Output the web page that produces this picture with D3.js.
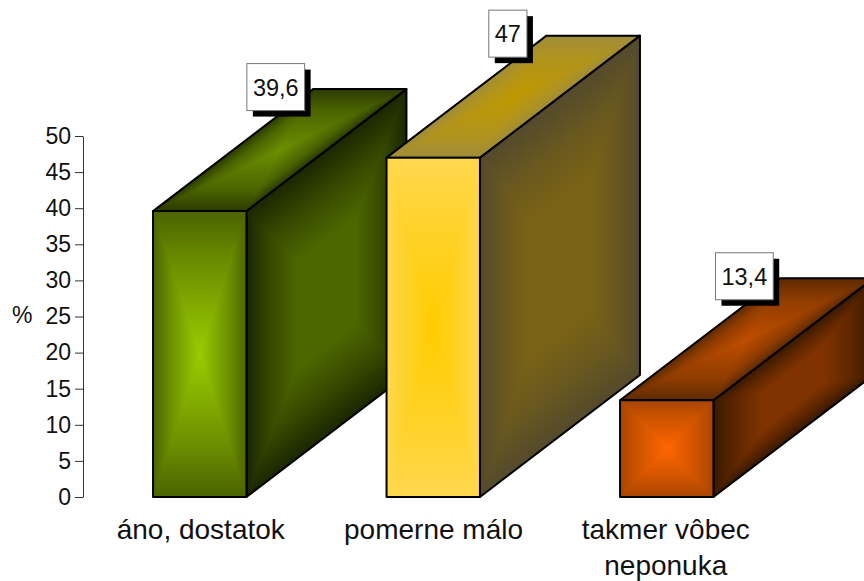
<!DOCTYPE html>
<html>
<head>
<meta charset="utf-8">
<style>
  html, body { margin: 0; padding: 0; background: #fff; overflow: hidden; }
  svg { display: block; }
  text { font-family: "Liberation Sans", Arial, sans-serif; fill: #111; }
</style>
<script src="https://cdn.jsdelivr.net/npm/d3@7/dist/d3.min.js"></script>
</head>
<body>
<svg id="chart" width="864" height="581"></svg>
<script>
// Survey shares per answer
const categories = [["áno, dostatok"], ["pomerne málo"], ["takmer vôbec", "neponuka"]];
const values = [39.6, 47, 13.4];
const valueLabels = ["39,6", "47", "13,4"];
const yTicks = [0, 5, 10, 15, 20, 25, 30, 35, 40, 45, 50];

// [edge, centre] colours of each face, one pair per bar
const frontColors = [["#4b6300", "#99cc00"], ["#ffd84f", "#ffcc00"], ["#a84500", "#ff6600"]];
const topColors = [["#2b3a00", "#6b8f00"], ["#a08c3c", "#bf9900"], ["#5e2a00", "#bf4d00"]];
const sideColors = [["#1b2600", "#4c6600"], ["#544a2c", "#7a6315"], ["#381900", "#803300"]];

const depthX = 160, depthY = -122;
const calloutShiftX = [76, 74.6, 77.6];
const captionShiftX = [1, 0.3, -1];
const svg = d3.select("#chart");
const defs = svg.append("defs");

const x = d3.scaleBand().domain(d3.range(values.length)).range([83, 783.5])
  .paddingInner(0.6).paddingOuter(0.3);
const y = d3.scaleLinear().domain([0, 50]).range([497, 136]);

let gradientCount = 0;

// Rectangular path gradient: each edge of a quad fades to the quad's centre.
// `ramp` lists [offset, mix] pairs describing the fade from edge to centre.
function pathGradientFace(g, quad, colors, ramp) {
  const cx = d3.mean(quad, p => p[0]);
  const cy = d3.mean(quad, p => p[1]);
  const mix = d3.interpolateRgb(colors[0], colors[1]);
  quad.forEach((a, i) => {
    const b = quad[(i + 1) % quad.length];
    const ex = b[0] - a[0], ey = b[1] - a[1];
    const t = ((cx - a[0]) * ex + (cy - a[1]) * ey) / (ex * ex + ey * ey);
    const id = "grad" + (gradientCount++);
    const grad = defs.append("linearGradient").attr("id", id)
      .attr("gradientUnits", "userSpaceOnUse")
      .attr("x1", a[0] + t * ex).attr("y1", a[1] + t * ey)
      .attr("x2", cx).attr("y2", cy);
    ramp.forEach(([offset, m]) => {
      grad.append("stop").attr("offset", offset).attr("stop-color", mix(m));
    });
    g.append("polygon")
      .attr("points", [a, b, [cx, cy]].join(" "))
      .attr("fill", `url(#${id})`)
      .attr("shape-rendering", "crispEdges");
  });
  g.append("polygon")
    .attr("points", quad.join(" "))
    .attr("fill", "none")
    .attr("stroke", "#000")
    .attr("stroke-width", 2)
    .attr("stroke-linejoin", "round");
}

const frontRamp = [[0, 0], [0.35, 0.4], [1, 1]];
const topRamp = [[0, 0], [0.35, 0.5], [1, 1]];
const sideRamp = [[0, 0], [0.3, 0.55], [0.62, 1], [1, 1]];

// Boxes, back to front in reading order
const bars = svg.append("g");
values.forEach((v, i) => {
  const g = bars.append("g");
  const x0 = x(i), x1 = x0 + x.bandwidth();
  const y0 = y(0), y1 = y(v);
  const shift = p => [p[0] + depthX, p[1] + depthY];
  pathGradientFace(g, [[x1, y1], shift([x1, y1]), shift([x1, y0]), [x1, y0]], sideColors[i], sideRamp);
  pathGradientFace(g, [[x0, y1], shift([x0, y1]), shift([x1, y1]), [x1, y1]], topColors[i], topRamp);
  pathGradientFace(g, [[x0, y1], [x1, y1], [x1, y0], [x0, y0]], frontColors[i], frontRamp);
});

// Value axis
const axis = svg.append("g")
  .attr("transform", "translate(83,0)")
  .call(d3.axisLeft(y).tickValues(yTicks).tickSize(8).tickSizeOuter(0).tickPadding(4));
axis.select(".domain").attr("stroke", "#333").attr("stroke-width", 1);
axis.selectAll(".tick line").attr("stroke", "#333").attr("stroke-width", 1);
axis.selectAll(".tick text").attr("font-size", 23).style("font-family", '"Liberation Sans", Arial, sans-serif').attr("fill", "#111");

svg.append("text").attr("x", 12).attr("y", 315).attr("dy", "0.35em")
  .attr("font-size", 23).text("%");

// Category captions
const caption = svg.append("g");
categories.forEach((lines, i) => {
  lines.forEach((line, j) => {
    caption.append("text")
      .attr("x", x(i) + x.bandwidth() / 2 + captionShiftX[i])
      .attr("y", 539 + j * 35.8)
      .attr("text-anchor", "middle")
      .attr("font-size", 28)
      .text(line);
  });
});

// Value call-outs with a hard drop shadow
const callouts = svg.append("g");
values.forEach((v, i) => {
  const g = callouts.append("g");
  const cx = x(i) + x.bandwidth() / 2 + calloutShiftX[i];
  const cy = y(v) - 124;
  const label = g.append("text").attr("x", cx).attr("y", cy).attr("dy", "0.36em")
    .attr("text-anchor", "middle").attr("font-size", 23.5).text(valueLabels[i]);
  const w = label.node().getComputedTextLength() + 12;
  const h = 47;
  g.insert("rect", "text").attr("x", cx - w / 2 + 6).attr("y", cy - h / 2 + 6)
    .attr("width", w).attr("height", h).attr("fill", "#000");
  g.insert("rect", "text").attr("x", cx - w / 2).attr("y", cy - h / 2)
    .attr("width", w).attr("height", h).attr("fill", "#fff")
    .attr("stroke", "#777").attr("stroke-width", 1);
});
</script>
</body>
</html>
